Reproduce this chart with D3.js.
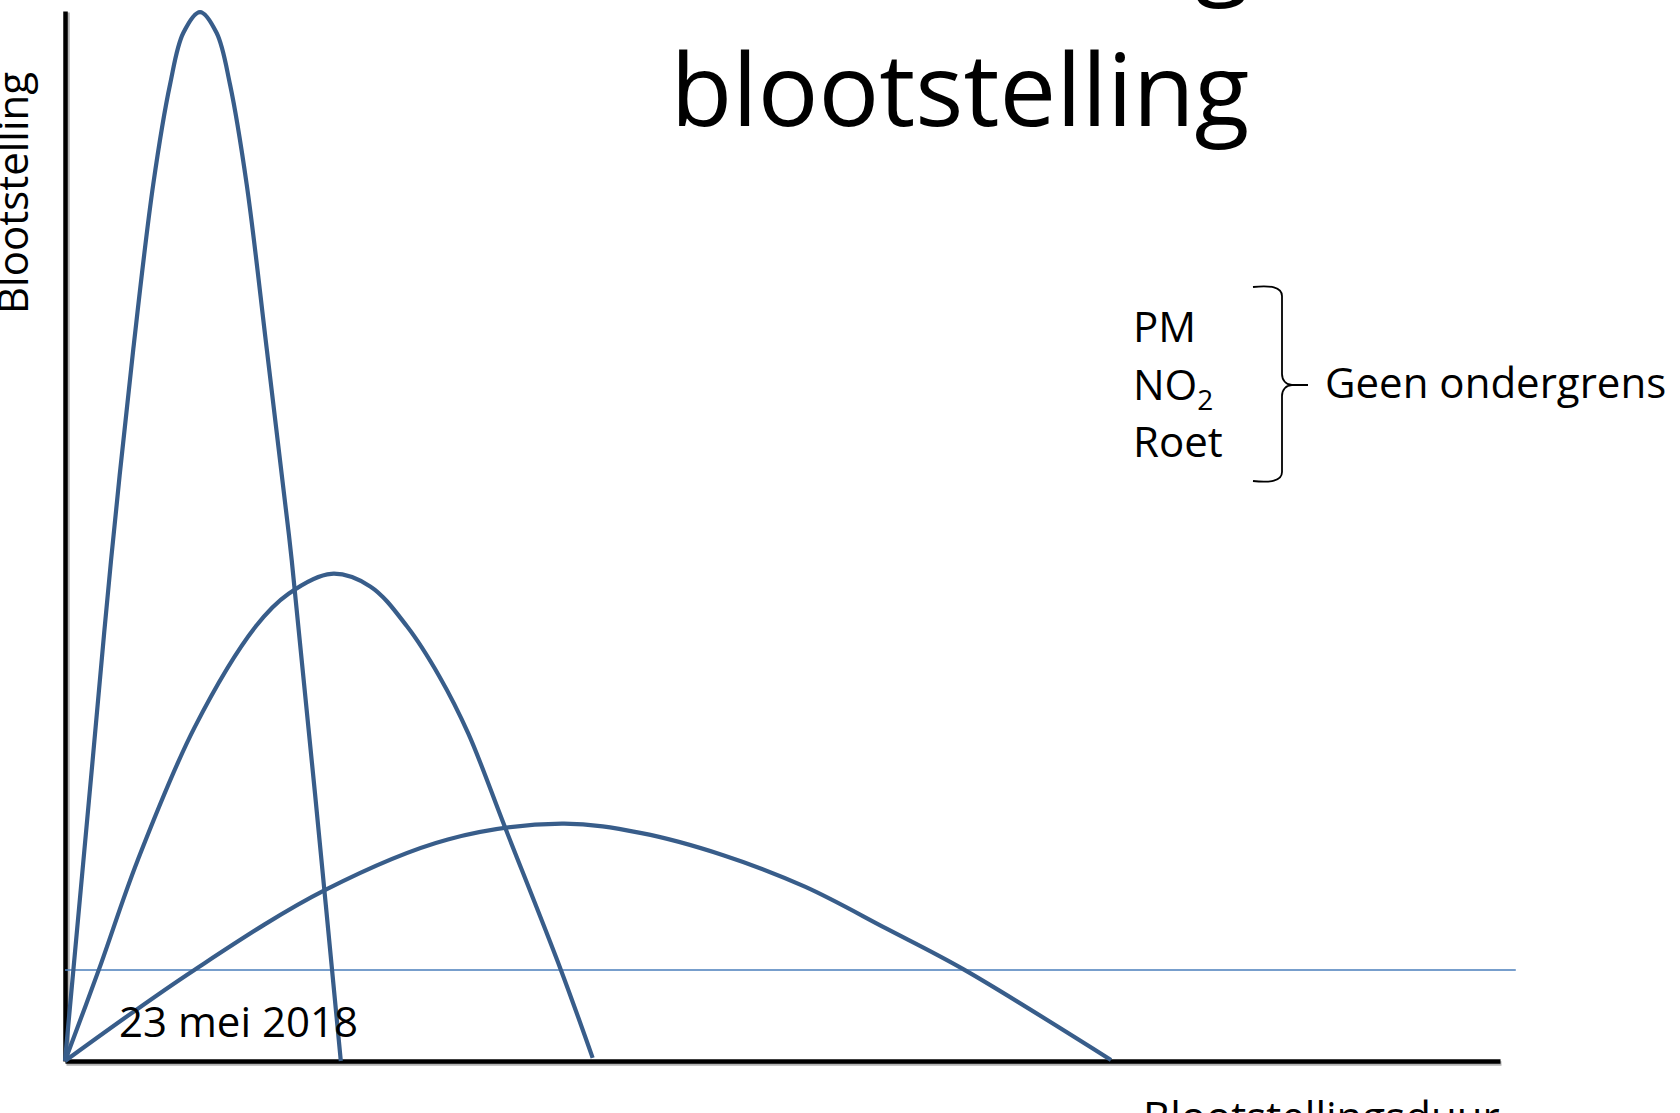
<!DOCTYPE html>
<meta charset="utf-8">
<style>
    html, body {
        margin: 0;
        padding: 0;
        background: #fff;
    }

    svg {
        display: block;
    }

    text {
        font-family: "Open Sans", sans-serif;
        fill: #000;
    }

    .curve {
        fill: none;
        stroke: #385d8a;
        stroke-width: 4.2px;
        stroke-linejoin: round;
    }

    .axis path {
        stroke: #000;
        stroke-width: 4.5px;
    }

    .axis-shadow path {
        stroke: #b3b3b3;
        stroke-width: 4.5px;
    }

    .threshold {
        stroke: #4a7ebb;
        stroke-width: 1.5px;
    }

    .brace {
        fill: none;
        stroke: #000;
        stroke-width: 1.8px;
    }
</style>
<body>
<script src="https://cdn.jsdelivr.net/npm/d3@7/dist/d3.min.js"></script>
<script>
    // exposure curves (x = duration, y = exposure, both 0..100)
    var shortX  = [0, 1.93, 3.21, 4.76, 6.15, 7.32, 8.24, 9.41, 10.57, 11.50, 12.66, 14.06, 15.80, 17.42, 19.22];
    var shortY  = [0, 28.7, 47.7, 67.8, 83.5, 93.0, 97.9, 99.9, 97.9, 93.0, 83.5, 67.8, 47.7, 25.5, 0];

    var mediumX = [0, 2.36, 5.06, 9.04, 13.30, 15.58, 18.56, 21.27, 23.83, 26.10, 28.10, 30.65, 34.55, 36.77];
    var mediumY = [0, 8.7, 19.1, 31.8, 41.4, 44.5, 46.4, 45.2, 41.4, 36.6, 31.2, 22.3, 8.7, 0.3];

    var longX   = [0, 9.04, 18.14, 26.68, 34.63, 40.18, 45.87, 51.56, 57.25, 62.65, 72.89];
    var longY   = [0, 8.7, 16.3, 21.1, 22.6, 21.7, 19.6, 16.6, 12.6, 8.7, 0.1];

    // thin horizontal reference line and how far it runs
    var thresholdY = 8.67;
    var thresholdX = [0, 101.1];

    var titleText = "blootstelling";
    var yLabel = "Blootstelling";
    var xLabel = "Blootstellingsduur";
    var dateLabel = "23 mei 2018";
    var pollutants = [{name: "PM"}, {name: "NO", sub: "2"}, {name: "Roet"}];
    var braceLabel = "Geen ondergrens";

    var width = 1680,
        height = 1113,
        margin = {top: 11, right: 180, bottom: 52, left: 65};

    var svg = d3.select("body").append("svg")
        .attr("width", width)
        .attr("height", height);

    var x = d3.scaleLinear().domain([0, 100]).range([margin.left, width - margin.right]),
        y = d3.scaleLinear().domain([0, 100]).range([height - margin.bottom, margin.top]);

    var xAxis = d3.axisBottom(x).ticks(0).tickSizeOuter(0),
        yAxis = d3.axisLeft(y).ticks(0).tickSizeOuter(0);

    // faint drop shadow under the axes, like the office shapes
    svg.append("g")
        .attr("class", "axis-shadow")
        .attr("transform", "translate(1," + (y(0) + 2) + ")")
        .call(xAxis);
    svg.append("g")
        .attr("class", "axis-shadow")
        .attr("transform", "translate(" + (x(0) + 2) + ",1)")
        .call(yAxis);

    svg.append("g")
        .attr("class", "axis axis--x")
        .attr("transform", "translate(0," + y(0) + ")")
        .call(xAxis);

    svg.append("g")
        .attr("class", "axis axis--y")
        .attr("transform", "translate(" + x(0) + ",0)")
        .call(yAxis);

    svg.selectAll(".tick").remove();

    // reference line
    svg.append("line")
        .attr("class", "threshold")
        .attr("x1", x(thresholdX[0]))
        .attr("x2", x(thresholdX[1]))
        .attr("y1", y(thresholdY))
        .attr("y2", y(thresholdY));

    var line = d3.line()
        .x(function(d) { return x(d[0]); })
        .y(function(d) { return y(d[1]); })
        .curve(d3.curveCatmullRom.alpha(0.5));

    var curves = [
        d3.zip(shortX, shortY),
        d3.zip(mediumX, mediumY),
        d3.zip(longX, longY)
    ];

    svg.selectAll(".curve")
        .data(curves)
        .enter().append("path")
        .attr("class", "curve")
        .attr("d", line);

    // title (only the second line is inside the picture)
    var title = svg.append("text")
        .attr("x", 960)
        .attr("y", 126)
        .attr("text-anchor", "middle")
        .style("font-size", "101px")
        .text(titleText);

    var titleWidth = title.node().getComputedTextLength();

    // tail of the 'g' of the cut-off first title line
    svg.append("text")
        .attr("x", 960 + titleWidth / 2)
        .attr("y", -15)
        .attr("text-anchor", "end")
        .style("font-size", "101px")
        .text("g");

    // axis labels
    svg.append("text")
        .attr("transform", "translate(28,193) rotate(-90)")
        .attr("text-anchor", "middle")
        .style("font-size", "42px")
        .text(yLabel);

    svg.append("text")
        .attr("x", 1143)
        .attr("y", 1132)
        .style("font-size", "42px")
        .text(xLabel);

    svg.append("text")
        .attr("x", 119)
        .attr("y", 1037)
        .style("font-size", "42px")
        .text(dateLabel);

    // pollutant list with brace
    var listX = 1133, listTop = 342, listStep = 57.5;

    var items = svg.selectAll(".pollutant")
        .data(pollutants)
        .enter().append("text")
        .attr("class", "pollutant")
        .attr("x", listX)
        .attr("y", function(d, i) { return listTop + i * listStep; })
        .style("font-size", "42px");

    items.append("tspan").text(function(d) { return d.name; });
    items.filter(function(d) { return d.sub; })
        .append("tspan")
        .attr("dy", 10)
        .style("font-size", "28px")
        .text(function(d) { return d.sub; });

    var bx0 = 1253, bx1 = 1282, bTip = 1308,
        bTop = 287, bBot = 481, bMid = 385;

    var brace = d3.path();
    brace.moveTo(bx0, bTop);
    brace.bezierCurveTo(bx0 + 17, bTop - 2, bx1, bTop, bx1, bTop + 9);
    brace.lineTo(bx1, bMid - 11);
    brace.bezierCurveTo(bx1, bMid - 5, bx1 + 4, bMid, bx1 + 10, bMid);
    brace.lineTo(bTip, bMid);
    brace.moveTo(bx1 + 10, bMid);
    brace.bezierCurveTo(bx1 + 4, bMid, bx1, bMid + 5, bx1, bMid + 11);
    brace.lineTo(bx1, bBot - 9);
    brace.bezierCurveTo(bx1, bBot, bx0 + 17, bBot + 2, bx0, bBot);

    svg.append("path")
        .attr("class", "brace")
        .attr("d", brace.toString());

    svg.append("text")
        .attr("x", 1325)
        .attr("y", 398)
        .style("font-size", "42px")
        .text(braceLabel);
</script>
</body>
